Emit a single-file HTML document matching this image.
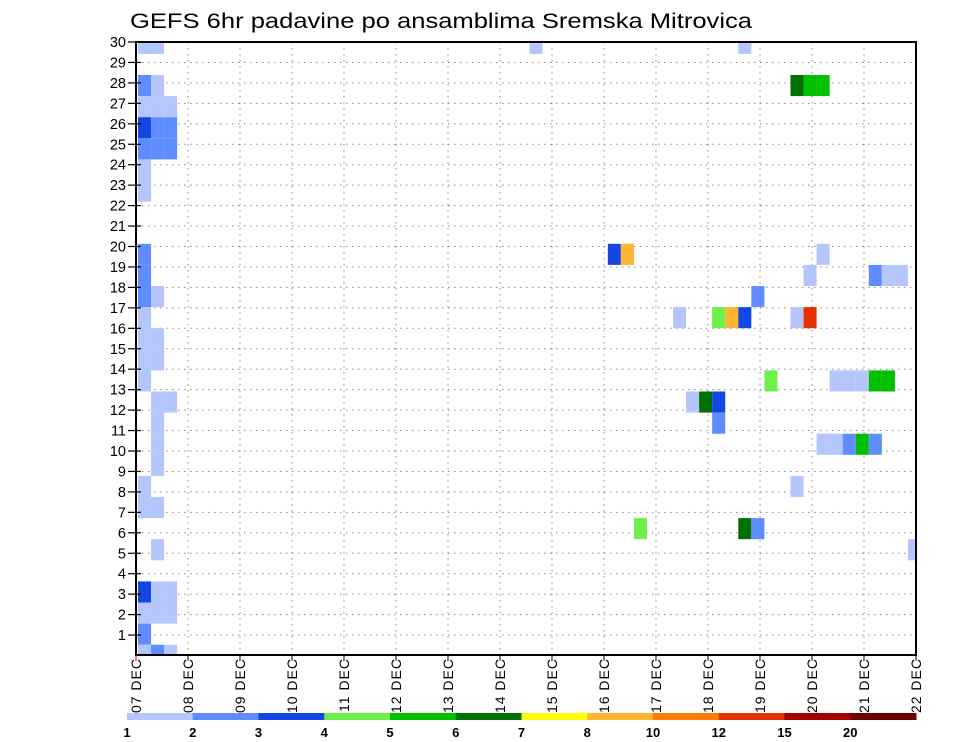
<!DOCTYPE html>
<html><head><meta charset="utf-8"><style>
body{margin:0;background:#fff;}
svg{display:block;font-family:"Liberation Sans",sans-serif;}
</style></head><body>
<svg id="chart" width="960" height="742" viewBox="0 0 960 742">
<rect width="960" height="742" fill="#fff"/>
<text x="130" y="28" font-size="21" fill="#000" textLength="622" lengthAdjust="spacingAndGlyphs">GEFS 6hr padavine po ansamblima Sremska Mitrovica</text>
<g id="grid"></g>
<g id="cells"></g>
<rect x="136" y="42" width="780" height="613" fill="none" stroke="#000" stroke-width="2"/>
<g id="axes"></g>
<g id="colorbar"></g>
</svg>
<script>
// Data arrays
const dayLabels = ["07 DEC","08 DEC","09 DEC","10 DEC","11 DEC","12 DEC","13 DEC","14 DEC","15 DEC","16 DEC","17 DEC","18 DEC","19 DEC","20 DEC","21 DEC","22 DEC"];
const memberTicks = [1,2,3,4,5,6,7,8,9,10,11,12,13,14,15,16,17,18,19,20,21,22,23,24,25,26,27,28,29,30];
const levelLabels = ["1","2","3","4","5","6","7","8","10","12","15","20"];
const levelColors = ["#b4c6fc","#5f8cff","#1446e4","#6ef04a","#00c000","#007000","#ffff00","#ffb432","#ff7d00","#e63200","#a50000","#6e0000"];
// cells: row index, 6-hour step index, precipitation class
const cellRow  = [30,30,28,28,27,27,27,26,26,26,25,25,25,24,23,20,19,18,18,17,16,16,15,15,14,13,13,12,11,10,9,8,8,6,4,4,4,3,3,3,2,1,1,1,
                  30,30,28,28,28,20,20,20,19,19,19,19,18,17,17,17,17,17,17,14,14,14,14,14,14,13,13,13,12,11,11,11,11,11,9,7,7,7,6];
const cellStep = [0,1,0,1,0,1,2,0,1,2,0,1,2,0,0,0,0,0,1,0,0,1,0,1,0,1,2,1,1,1,0,0,1,1,0,1,2,0,1,2,0,0,1,2,
                  30,46,50,51,52,36,37,52,51,56,57,58,47,41,44,45,46,50,51,48,53,54,55,56,57,42,43,44,44,52,53,54,55,56,50,38,46,47,59];
const cellClass= [0,0,1,0,0,0,0,2,1,1,1,1,1,0,0,1,1,1,0,0,0,0,0,0,0,0,0,0,0,0,0,0,0,0,2,0,0,0,0,0,1,0,1,0,
                  0,0,5,4,4,2,7,0,0,1,0,0,1,0,3,7,2,0,9,3,0,0,0,4,4,0,5,2,1,0,0,1,4,1,0,3,5,1,0];

const NS="http://www.w3.org/2000/svg";
const X0=136, X1=916, Y0=42, Y1=655;
const dayW=52, stepW=13.05, stepX0=138;
function xDay(d){return X0+d*dayW;}
function xStep(j){return stepX0+j*stepW;}
function yTick(k){return 655.5-20.45*k;}
function cellTop(c){return 75+(28-c)*21.1;}
const cellH=21.1;
function mk(tag,attrs,parent){const e=document.createElementNS(NS,tag);for(const k in attrs)e.setAttribute(k,attrs[k]);parent.appendChild(e);return e;}

const grid=document.getElementById('grid');
for(let d=1;d<dayLabels.length-1;d++){
  const l=mk('line',{x1:xDay(d),x2:xDay(d),y1:Y0,y2:Y1,stroke:"#888","stroke-width":1,"stroke-dasharray":"1.5,4.5"},grid);
  
  
}
memberTicks.forEach(k=>{
  const l=mk('line',{x1:X0,x2:X1,y1:yTick(k),y2:yTick(k),stroke:"#888","stroke-width":1,"stroke-dasharray":"1.5,4.5"},grid);
  
  
});

const cg=document.getElementById('cells');
for(let i=0;i<cellRow.length;i++){
  let x=xStep(cellStep[i]), w=stepW;
  if(x+w>X1){w=X1-x;}
  let y=cellTop(cellRow[i]), h=cellH;
  if(y<Y0){h-=Y0-y;y=Y0;}
  if(y+h>Y1){h=Y1-y;}
  const r=mk('rect',{x:x,y:y,width:w,height:h,fill:levelColors[cellClass[i]]},cg);
  
  
}

const ax=document.getElementById('axes');
memberTicks.forEach(k=>{
  const t=mk('line',{x1:X0-8,x2:X0+5,y1:yTick(k),y2:yTick(k),stroke:"#000","stroke-width":1.2},ax);
  
  
  const tx=mk('text',{x:X0-10,y:yTick(k)+5,"text-anchor":"end","font-size":14.5,fill:"#000"},ax);
  tx.textContent=String(k);
  
  
});
dayLabels.forEach((lab,d)=>{
  const x=xDay(d);
  const t=mk('line',{x1:x,x2:x,y1:Y1,y2:Y1+6,stroke:d===0?"#c00":"#000","stroke-width":1},ax);
  
  
  const tx=mk('text',{x:0,y:0,"text-anchor":"end","font-size":14,fill:"#000",transform:`translate(${x+5},658) rotate(-90)`,"letter-spacing":"1"},ax);
  tx.textContent=lab;
  
  
});

const cb=document.getElementById('colorbar');
const cbX0=127, cbX1=916, cbY=713, cbH=7;
const segW=(cbX1-cbX0)/levelColors.length;
levelColors.forEach((c,i)=>{
  const r=mk('rect',{x:cbX0+i*segW,y:cbY,width:segW+0.5,height:cbH,fill:c},cb);
  
  
});
levelLabels.forEach((lab,i)=>{
  const tx=mk('text',{x:cbX0+i*segW,y:737,"text-anchor":"middle","font-size":13,"font-weight":"bold",fill:"#000"},cb);
  tx.textContent=lab;
  
  
});
</script>
</body></html>
